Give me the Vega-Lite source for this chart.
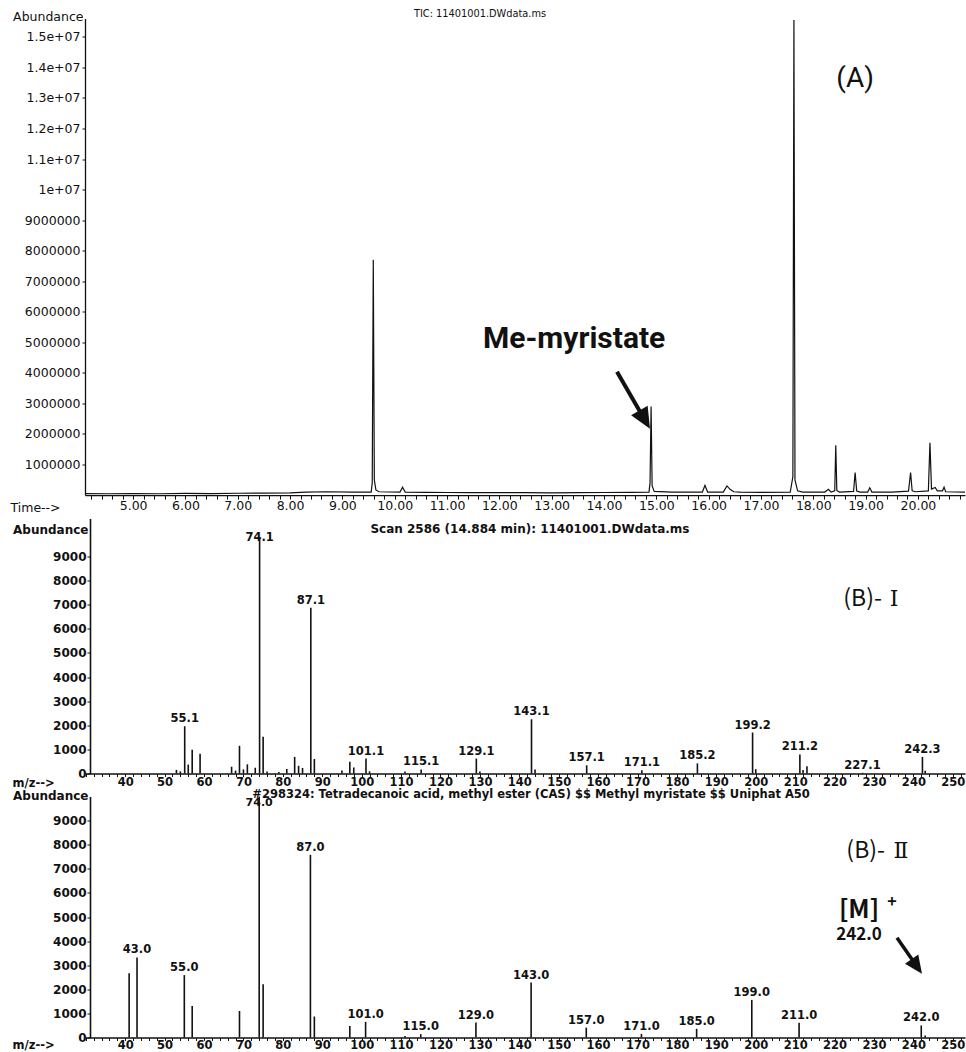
{
  "$schema": "https://vega.github.io/schema/vega-lite/v6.json",
  "background": "white",
  "padding": {"left": 10, "top": 8.5, "right": 1, "bottom": 0},
  "bounds": "flush",
  "spacing": 23,
  "config": {
    "view": {"stroke": null},
    "axis": {
      "grid": false,
      "domainColor": "#111",
      "tickColor": "#111",
      "labelColor": "#111",
      "titleColor": "#111",
      "labelFont": "DejaVu Sans",
      "titleFont": "DejaVu Sans",
      "labelOverlap": false,
      "labelFlush": false
    },
    "text": {"font": "DejaVu Sans", "color": "#111"}
  },
  "datasets": {
    "tic": [
      {"time": 4.08, "abundance": 50000},
      {"time": 4.5, "abundance": 45000},
      {"time": 5.0, "abundance": 50000},
      {"time": 5.5, "abundance": 45000},
      {"time": 6.0, "abundance": 55000},
      {"time": 6.5, "abundance": 50000},
      {"time": 7.0, "abundance": 60000},
      {"time": 7.5, "abundance": 65000},
      {"time": 8.0, "abundance": 70000},
      {"time": 8.3, "abundance": 100000},
      {"time": 8.7, "abundance": 110000},
      {"time": 9.2, "abundance": 100000},
      {"time": 9.55, "abundance": 100000},
      {"time": 9.57, "abundance": 400000},
      {"time": 9.59, "abundance": 7700000},
      {"time": 9.61, "abundance": 500000},
      {"time": 9.64, "abundance": 170000},
      {"time": 9.7, "abundance": 110000},
      {"time": 10.1, "abundance": 100000},
      {"time": 10.15, "abundance": 260000},
      {"time": 10.2, "abundance": 100000},
      {"time": 10.6, "abundance": 90000},
      {"time": 11.0, "abundance": 85000},
      {"time": 11.5, "abundance": 80000},
      {"time": 12.0, "abundance": 80000},
      {"time": 12.5, "abundance": 80000},
      {"time": 13.0, "abundance": 75000},
      {"time": 13.5, "abundance": 80000},
      {"time": 14.0, "abundance": 85000},
      {"time": 14.5, "abundance": 90000},
      {"time": 14.86, "abundance": 100000},
      {"time": 14.88, "abundance": 400000},
      {"time": 14.9, "abundance": 2900000},
      {"time": 14.92, "abundance": 300000},
      {"time": 14.96, "abundance": 120000},
      {"time": 15.3, "abundance": 100000},
      {"time": 15.88, "abundance": 100000},
      {"time": 15.93, "abundance": 320000},
      {"time": 15.98, "abundance": 100000},
      {"time": 16.28, "abundance": 100000},
      {"time": 16.35, "abundance": 300000},
      {"time": 16.41, "abundance": 190000},
      {"time": 16.48, "abundance": 110000},
      {"time": 16.6, "abundance": 100000},
      {"time": 17.0, "abundance": 90000},
      {"time": 17.56, "abundance": 100000},
      {"time": 17.61, "abundance": 600000},
      {"time": 17.63, "abundance": 15550000},
      {"time": 17.65, "abundance": 500000},
      {"time": 17.7, "abundance": 140000},
      {"time": 17.8, "abundance": 100000},
      {"time": 18.22, "abundance": 100000},
      {"time": 18.29, "abundance": 190000},
      {"time": 18.34, "abundance": 100000},
      {"time": 18.41, "abundance": 140000},
      {"time": 18.43, "abundance": 1630000},
      {"time": 18.45, "abundance": 150000},
      {"time": 18.5, "abundance": 100000},
      {"time": 18.77, "abundance": 120000},
      {"time": 18.8, "abundance": 740000},
      {"time": 18.83, "abundance": 130000},
      {"time": 18.9, "abundance": 100000},
      {"time": 19.04, "abundance": 100000},
      {"time": 19.08, "abundance": 240000},
      {"time": 19.12, "abundance": 100000},
      {"time": 19.5, "abundance": 100000},
      {"time": 19.82, "abundance": 130000},
      {"time": 19.86, "abundance": 740000},
      {"time": 19.89, "abundance": 140000},
      {"time": 19.95, "abundance": 110000},
      {"time": 20.2, "abundance": 140000},
      {"time": 20.23, "abundance": 1710000},
      {"time": 20.26, "abundance": 200000},
      {"time": 20.33, "abundance": 250000},
      {"time": 20.37, "abundance": 140000},
      {"time": 20.47, "abundance": 140000},
      {"time": 20.5, "abundance": 260000},
      {"time": 20.53, "abundance": 110000},
      {"time": 20.9, "abundance": 100000}
    ],
    "scan": [
      {"mz": 53, "ab": 150},
      {"mz": 54, "ab": 90},
      {"mz": 55.1, "ab": 1960, "tag": true},
      {"mz": 56, "ab": 370},
      {"mz": 57, "ab": 990},
      {"mz": 59, "ab": 820},
      {"mz": 67, "ab": 280},
      {"mz": 68, "ab": 120},
      {"mz": 69, "ab": 1150},
      {"mz": 70, "ab": 170},
      {"mz": 71, "ab": 380},
      {"mz": 73, "ab": 240},
      {"mz": 74.1, "ab": 9800, "tag": true},
      {"mz": 75, "ab": 1520},
      {"mz": 76, "ab": 80},
      {"mz": 79, "ab": 60},
      {"mz": 81, "ab": 190},
      {"mz": 83, "ab": 690},
      {"mz": 84, "ab": 320},
      {"mz": 85, "ab": 230},
      {"mz": 87.1, "ab": 6880, "tag": true},
      {"mz": 88, "ab": 600},
      {"mz": 95, "ab": 120},
      {"mz": 97, "ab": 490},
      {"mz": 98, "ab": 250},
      {"mz": 101.1, "ab": 620, "tag": true},
      {"mz": 102, "ab": 90},
      {"mz": 111, "ab": 80},
      {"mz": 115.1, "ab": 170, "tag": true},
      {"mz": 129.1, "ab": 620, "tag": true},
      {"mz": 130, "ab": 80},
      {"mz": 143.1, "ab": 2250, "tag": true},
      {"mz": 144, "ab": 170},
      {"mz": 157.1, "ab": 340, "tag": true},
      {"mz": 171.1, "ab": 130, "tag": true},
      {"mz": 185.2, "ab": 420, "tag": true},
      {"mz": 199.2, "ab": 1700, "tag": true},
      {"mz": 200, "ab": 180},
      {"mz": 211.2, "ab": 790, "tag": true},
      {"mz": 212, "ab": 150},
      {"mz": 213, "ab": 300},
      {"mz": 227.1, "ab": 30, "tag": true},
      {"mz": 242.3, "ab": 690, "tag": true},
      {"mz": 243, "ab": 110}
    ],
    "library": [
      {"mz": 41, "ab": 2670},
      {"mz": 43, "ab": 3320, "tag": true},
      {"mz": 55, "ab": 2590, "tag": true},
      {"mz": 57, "ab": 1310},
      {"mz": 69, "ab": 1100},
      {"mz": 74, "ab": 9999, "tag": true},
      {"mz": 75, "ab": 2210},
      {"mz": 87, "ab": 7580, "tag": true},
      {"mz": 88, "ab": 870},
      {"mz": 97, "ab": 480},
      {"mz": 101, "ab": 650, "tag": true},
      {"mz": 111, "ab": 60},
      {"mz": 115, "ab": 140, "tag": true},
      {"mz": 129, "ab": 620, "tag": true},
      {"mz": 143, "ab": 2280, "tag": true},
      {"mz": 157, "ab": 410, "tag": true},
      {"mz": 171, "ab": 150, "tag": true},
      {"mz": 185, "ab": 360, "tag": true},
      {"mz": 199, "ab": 1560, "tag": true},
      {"mz": 211, "ab": 610, "tag": true},
      {"mz": 242, "ab": 500, "tag": true},
      {"mz": 243, "ab": 80}
    ]
  },
  "vconcat": [
    {
      "width": 880,
      "height": 476.6,
      "layer": [
        {
          "data": {"name": "tic"},
          "mark": {"type": "line", "color": "#111", "strokeWidth": 1.2},
          "encoding": {
            "x": {
              "field": "time", "type": "quantitative",
              "scale": {"domain": [4.08, 20.9], "nice": false, "zero": false},
              "axis": {
                "title": "Time-->", "tickCount": 84,
                "labelExpr": "datum.value % 1 === 0 ? format(datum.value, '.2f') : ''",
                "labelOverlap": false,
                "tickSize": 4, "labelPadding": 0, "labelFontSize": 12.5,
                "domainWidth": 1.3,
                "titleFontSize": 12.5, "titleFontWeight": "normal",
                "titleX": -75, "titleY": 12, "titleAlign": "left", "titleBaseline": "middle", "titleAngle": 0
              }
            },
            "y": {
              "field": "abundance", "type": "quantitative",
              "scale": {"domain": [0, 15600000], "nice": false},
              "axis": {
                "title": "Abundance", "tickCount": 30,
                "values": [1000000, 2000000, 3000000, 4000000, 5000000, 6000000, 7000000, 8000000, 9000000, 10000000, 11000000, 12000000, 13000000, 14000000, 15000000],
                "labelExpr": "datum.value >= 10000000 ? (datum.value === 10000000 ? '1e+07' : format(datum.value / 10000000, '.1f') + 'e+07') : format(datum.value, 'd')",
                "labelOverlap": false,
                "tickSize": 3, "labelPadding": 2, "labelFontSize": 12.5,
                "domainWidth": 1.3,
                "titleFontSize": 12.5, "titleFontWeight": "normal", "titleAngle": 0,
                "titleX": -2, "titleY": -2, "titleAlign": "right", "titleBaseline": "middle"
              }
            }
          }
        },
        {
          "data": {"values": [{}]},
          "mark": {"type": "text", "text": "TIC: 11401001.DWdata.ms", "fontSize": 9.8, "align": "center", "baseline": "middle"},
          "encoding": {"x": {"datum": 11.63, "type": "quantitative"}, "y": {"datum": 15750000, "type": "quantitative"}}
        },
        {
          "data": {"values": [{}]},
          "mark": {"type": "text", "text": "(A)", "font": "Roboto", "fontSize": 28, "align": "center", "baseline": "middle"},
          "encoding": {"x": {"datum": 18.8, "type": "quantitative"}, "y": {"datum": 13630000, "type": "quantitative"}}
        },
        {
          "data": {"values": [{}]},
          "mark": {"type": "text", "text": "Me-myristate", "font": "Roboto", "fontWeight": "bold", "fontSize": 30, "align": "center", "baseline": "middle"},
          "encoding": {"x": {"datum": 13.43, "type": "quantitative"}, "y": {"datum": 5120000, "type": "quantitative"}}
        },
        {
          "data": {"values": [{}]},
          "mark": {"type": "rule", "color": "#111", "strokeWidth": 4},
          "encoding": {
            "x": {"datum": 14.248, "type": "quantitative"}, "y": {"datum": 4040000, "type": "quantitative"},
            "x2": {"datum": 14.783}, "y2": {"datum": 2450000}
          }
        },
        {
          "data": {"values": [{}]},
          "mark": {"type": "point", "shape": "M0,0L-0.45,-1L0.45,-1Z", "filled": true, "opacity": 1, "color": "#111", "size": 1800, "angle": -30},
          "encoding": {"x": {"datum": 14.879, "type": "quantitative"}, "y": {"datum": 2170000, "type": "quantitative"}}
        }
      ]
    },
    {
      "width": 880,
      "height": 255,
      "layer": [
        {
          "data": {"name": "scan"},
          "mark": {"type": "rule", "color": "#111", "strokeWidth": 1.6},
          "encoding": {
            "x": {
              "field": "mz", "type": "quantitative",
              "scale": {"domain": [29.8, 253.1], "nice": false, "zero": false},
              "axis": {
                "title": "m/z-->", "tickCount": 112,
                "labelExpr": "datum.value % 10 === 0 && datum.value >= 40 ? datum.label : ''",
                "labelOverlap": false,
                "tickSize": 3, "labelPadding": 0, "labelFontSize": 11.5, "labelFontWeight": "bold",
                "domainWidth": 1.3,
                "titleFontSize": 11.5, "titleFontWeight": "bold",
                "titleX": -73, "titleY": 10, "titleAlign": "left", "titleBaseline": "middle", "titleAngle": 0
              }
            },
            "y": {
              "field": "ab", "type": "quantitative",
              "scale": {"domain": [0, 10580], "nice": false},
              "axis": {
                "title": "Abundance", "offset": -5, "format": "d", "tickCount": 30,
                "values": [0, 1000, 2000, 3000, 4000, 5000, 6000, 7000, 8000, 9000],
                "labelOverlap": false,
                "tickSize": 3, "labelPadding": 1, "labelFontSize": 12, "labelFontWeight": "bold",
                "domainWidth": 1.6,
                "titleFontSize": 12, "titleFontWeight": "bold", "titleAngle": 0,
                "titleX": -2, "titleY": 11, "titleAlign": "right", "titleBaseline": "middle"
              }
            },
            "y2": {"datum": 0}
          }
        },
        {
          "data": {"name": "scan"},
          "transform": [{"filter": "datum.tag && datum.ab < 9000"}],
          "mark": {"type": "text", "fontSize": 11.5, "fontWeight": "bold", "baseline": "middle", "dy": -7},
          "encoding": {
            "x": {"field": "mz", "type": "quantitative"},
            "y": {"field": "ab", "type": "quantitative"},
            "text": {"field": "mz", "type": "quantitative", "format": ".1f"}
          }
        },
        {
          "data": {"name": "scan"},
          "transform": [{"filter": "datum.tag && datum.ab >= 9000"}],
          "mark": {"type": "text", "fontSize": 11.5, "fontWeight": "bold", "baseline": "middle", "dy": 1},
          "encoding": {
            "x": {"field": "mz", "type": "quantitative"},
            "y": {"field": "ab", "type": "quantitative"},
            "text": {"field": "mz", "type": "quantitative", "format": ".1f"}
          }
        },
        {
          "data": {"values": [{}]},
          "mark": {"type": "text", "text": "Scan 2586 (14.884 min): 11401001.DWdata.ms", "fontSize": 12, "fontWeight": "bold", "align": "center", "baseline": "middle"},
          "encoding": {"x": {"datum": 142.7, "type": "quantitative"}, "y": {"datum": 10124, "type": "quantitative"}}
        },
        {
          "data": {"values": [{}]},
          "mark": {"type": "text", "text": "(B)-", "font": "Noto Sans CJK KR", "fontSize": 23, "align": "right", "baseline": "middle"},
          "encoding": {"x": {"datum": 232.03, "type": "quantitative"}, "y": {"datum": 7220, "type": "quantitative"}}
        },
        {
          "data": {"values": [{}]},
          "mark": {"type": "text", "text": "Ⅰ", "font": "DejaVu Serif", "fontSize": 22, "align": "center", "baseline": "middle"},
          "encoding": {"x": {"datum": 235.08, "type": "quantitative"}, "y": {"datum": 7220, "type": "quantitative"}}
        }
      ]
    },
    {
      "width": 880,
      "height": 241,
      "layer": [
        {
          "data": {"name": "library"},
          "mark": {"type": "rule", "color": "#111", "strokeWidth": 1.6},
          "encoding": {
            "x": {
              "field": "mz", "type": "quantitative",
              "scale": {"domain": [29.8, 253.1], "nice": false, "zero": false},
              "axis": {
                "title": "m/z-->", "tickCount": 112,
                "labelExpr": "datum.value % 10 === 0 && datum.value >= 40 ? datum.label : ''",
                "labelOverlap": false,
                "tickSize": 3, "labelPadding": -1.5, "labelFontSize": 11.5, "labelFontWeight": "bold",
                "domainWidth": 1.3,
                "titleFontSize": 11.5, "titleFontWeight": "bold",
                "titleX": -73, "titleY": 8, "titleAlign": "left", "titleBaseline": "middle", "titleAngle": 0
              }
            },
            "y": {
              "field": "ab", "type": "quantitative",
              "scale": {"domain": [0, 10000], "nice": false},
              "axis": {
                "title": "Abundance", "offset": -5, "format": "d", "tickCount": 30,
                "values": [0, 1000, 2000, 3000, 4000, 5000, 6000, 7000, 8000, 9000],
                "labelOverlap": false,
                "tickSize": 3, "labelPadding": 1, "labelFontSize": 12, "labelFontWeight": "bold",
                "domainWidth": 1.6,
                "titleFontSize": 12, "titleFontWeight": "bold", "titleAngle": 0,
                "titleX": -2, "titleY": -1, "titleAlign": "right", "titleBaseline": "middle"
              }
            },
            "y2": {"datum": 0}
          }
        },
        {
          "data": {"name": "library"},
          "transform": [{"filter": "datum.tag && datum.ab < 9000"}],
          "mark": {"type": "text", "fontSize": 11.5, "fontWeight": "bold", "baseline": "middle", "dy": -7},
          "encoding": {
            "x": {"field": "mz", "type": "quantitative"},
            "y": {"field": "ab", "type": "quantitative"},
            "text": {"field": "mz", "type": "quantitative", "format": ".1f"}
          }
        },
        {
          "data": {"name": "library"},
          "transform": [{"filter": "datum.tag && datum.ab >= 9000"}],
          "mark": {"type": "text", "fontSize": 11, "fontWeight": "bold", "baseline": "middle", "dy": 6},
          "encoding": {
            "x": {"field": "mz", "type": "quantitative"},
            "y": {"field": "ab", "type": "quantitative"},
            "text": {"field": "mz", "type": "quantitative", "format": ".1f"}
          }
        },
        {
          "data": {"values": [{}]},
          "mark": {"type": "text", "text": "#298324: Tetradecanoic acid, methyl ester (CAS) $$ Methyl myristate $$ Uniphat A50", "fontSize": 11.5, "fontWeight": "bold", "align": "center", "baseline": "middle"},
          "encoding": {"x": {"datum": 143.0, "type": "quantitative"}, "y": {"datum": 10080, "type": "quantitative"}}
        },
        {
          "data": {"values": [{}]},
          "mark": {"type": "text", "text": "(B)-", "font": "Noto Sans CJK KR", "fontSize": 23, "align": "right", "baseline": "middle"},
          "encoding": {"x": {"datum": 232.8, "type": "quantitative"}, "y": {"datum": 7747, "type": "quantitative"}}
        },
        {
          "data": {"values": [{}]},
          "mark": {"type": "text", "text": "Ⅱ", "font": "DejaVu Serif", "fontSize": 22, "align": "center", "baseline": "middle"},
          "encoding": {"x": {"datum": 236.85, "type": "quantitative"}, "y": {"datum": 7747, "type": "quantitative"}}
        },
        {
          "data": {"values": [{}]},
          "mark": {"type": "text", "text": "[M]", "font": "Noto Sans CJK KR", "fontWeight": "bold", "fontSize": 25, "align": "center", "baseline": "middle"},
          "encoding": {"x": {"datum": 226.2, "type": "quantitative"}, "y": {"datum": 5300, "type": "quantitative"}}
        },
        {
          "data": {"values": [{}]},
          "mark": {"type": "text", "text": "+", "font": "Noto Sans CJK KR", "fontWeight": "bold", "fontSize": 16, "align": "center", "baseline": "middle"},
          "encoding": {"x": {"datum": 234.6, "type": "quantitative"}, "y": {"datum": 5620, "type": "quantitative"}}
        },
        {
          "data": {"values": [{}]},
          "mark": {"type": "text", "text": "242.0", "font": "Noto Sans CJK KR", "fontWeight": "bold", "fontSize": 17, "align": "center", "baseline": "middle"},
          "encoding": {"x": {"datum": 226.2, "type": "quantitative"}, "y": {"datum": 4240, "type": "quantitative"}}
        },
        {
          "data": {"values": [{}]},
          "mark": {"type": "rule", "color": "#111", "strokeWidth": 3.5},
          "encoding": {
            "x": {"datum": 235.84, "type": "quantitative"}, "y": {"datum": 4137, "type": "quantitative"},
            "x2": {"datum": 240.73}, "y2": {"datum": 2983}
          }
        },
        {
          "data": {"values": [{}]},
          "mark": {"type": "point", "shape": "M0,0L-0.45,-1L0.45,-1Z", "filled": true, "opacity": 1, "color": "#111", "size": 1300, "angle": -35},
          "encoding": {"x": {"datum": 242.18, "type": "quantitative"}, "y": {"datum": 2643, "type": "quantitative"}}
        }
      ]
    }
  ]
}
